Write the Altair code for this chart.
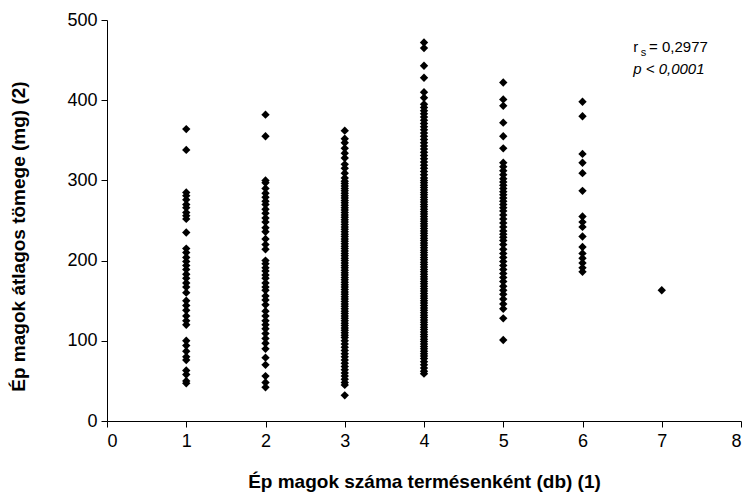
import altair as alt
import pandas as pd

# Seed count per fruit (x) and mean seed mass (mg) (y)
col1 = [364, 338, 285, 281, 276, 270, 266, 260, 256, 252, 235, 215, 210, 204, 199, 194,
        189, 183, 178, 172, 167, 160, 150, 144, 138, 131, 125, 120, 100, 94, 87, 80,
        76, 63, 58, 50, 47]
col2 = [382, 355, 300, 297, 290, 284, 279, 274, 270, 264, 259, 253, 248, 241, 236, 227,
        220, 214, 200, 196, 191, 187, 182, 178, 172, 167, 163, 156, 151, 145, 137, 131,
        125, 120, 115, 109, 103, 97, 90, 79, 70, 56, 48, 42]
col3 = [362, 352, 347, 340, 334, 328, 320, 315, 309, 303, 299, 296, 293, 290, 287, 284,
        281, 278, 275, 272, 269, 266, 263, 260, 257, 254, 251, 248, 245, 242, 239, 236,
        233, 230, 227, 224, 221, 218, 215, 212, 209, 206, 203, 200, 197, 194, 191, 188,
        185, 182, 179, 176, 173, 170, 167, 164, 161, 158, 155, 152, 149, 146, 143, 140,
        137, 134, 131, 128, 125, 122, 119, 116, 113, 110, 107, 104, 100, 96, 92, 88,
        84, 80, 76, 72, 68, 64, 60, 56, 52, 48, 45, 32]
col4 = [472, 465, 443, 428, 410, 403, 395, 391, 387, 383, 379, 375, 371, 367, 363, 359,
        355, 351, 347, 343, 339, 335, 331, 327, 323, 319, 315, 311, 307, 303, 300, 297,
        294, 291, 288, 285, 282, 279, 276, 273, 270, 267, 264, 261, 258, 255, 252, 249,
        246, 243, 240, 237, 234, 231, 228, 225, 222, 219, 216, 213, 210, 207, 204, 201,
        198, 195, 192, 189, 186, 183, 180, 177, 174, 171, 168, 165, 162, 159, 156, 153,
        150, 147, 144, 141, 138, 135, 132, 129, 126, 123, 120, 117, 114, 111, 108, 105,
        102, 99, 96, 93, 90, 87, 84, 81, 78, 74, 70, 66, 62, 59]
col5 = [422, 401, 393, 372, 355, 340, 322, 317, 312, 307, 302, 298, 294, 290, 286, 282,
        278, 274, 270, 266, 262, 257, 252, 247, 242, 237, 233, 229, 225, 220, 214, 209,
        204, 199, 194, 189, 184, 179, 174, 168, 163, 158, 152, 146, 140, 128, 101]
col6 = [398, 380, 333, 322, 309, 287, 255, 248, 242, 230, 217, 209, 203, 197, 191, 186]
col7 = [163]

rows = []
for k, vals in enumerate([col1, col2, col3, col4, col5, col6, col7], start=1):
    for v in vals:
        rows.append({"x": k, "y": v})
df = pd.DataFrame(rows)

FONT = "Liberation Sans"

xs = alt.Scale(domain=[0, 8], nice=False, zero=False)
ys = alt.Scale(domain=[0, 500], nice=False)

points = alt.Chart(df).mark_point(
    shape="diamond", filled=True, color="black", opacity=1, size=70
).encode(
    x=alt.X("x:Q", scale=xs, title="Ép magok száma termésenként (db) (1)",
            axis=alt.Axis(values=[0, 1, 2, 3, 4, 5, 6, 7, 8], format="d", grid=False,
                          domainColor="black", tickColor="black", tickSize=6,
                          labelFont=FONT, labelFontSize=18, labelColor="black",
                          labelPadding=5, titleFont=FONT, titleFontSize=19,
                          titleFontWeight="bold", titleColor="black", titlePadding=22)),
    y=alt.Y("y:Q", scale=ys, title="Ép magok átlagos tömege (mg) (2)",
            axis=alt.Axis(values=[0, 100, 200, 300, 400, 500], grid=False,
                          domainColor="black", tickColor="black", tickSize=6,
                          labelFont=FONT, labelFontSize=18, labelColor="black",
                          labelPadding=4, titleFont=FONT, titleFontSize=19,
                          titleFontWeight="bold", titleColor="black", titlePadding=38,
                          titleY=216)),
)

ann_r = pd.DataFrame({"x": [6.64], "y": [460], "t": ["r"]})
ann_s = pd.DataFrame({"x": [6.735], "y": [455], "t": ["s"]})
ann_v = pd.DataFrame({"x": [6.84], "y": [460], "t": ["= 0,2977"]})
ann_p = pd.DataFrame({"x": [6.64], "y": [433], "t": ["p < 0,0001"]})

def txt(d, size, style="normal"):
    return alt.Chart(d).mark_text(
        align="left", baseline="alphabetic", font=FONT, fontSize=size,
        fontStyle=style, color="black"
    ).encode(x=alt.X("x:Q", scale=xs), y=alt.Y("y:Q", scale=ys), text="t:N")

chart = alt.layer(
    points,
    txt(ann_r, 15), txt(ann_s, 11), txt(ann_v, 15), txt(ann_p, 15, "italic"),
).properties(
    width=634, height=401,
    autosize=alt.AutoSizeParams(type="none"),
    padding={"left": 107, "top": 20, "right": 9, "bottom": 77},
).configure_view(stroke=None)

chart.save("out.html", embed_options={"renderer": "svg", "actions": False})
